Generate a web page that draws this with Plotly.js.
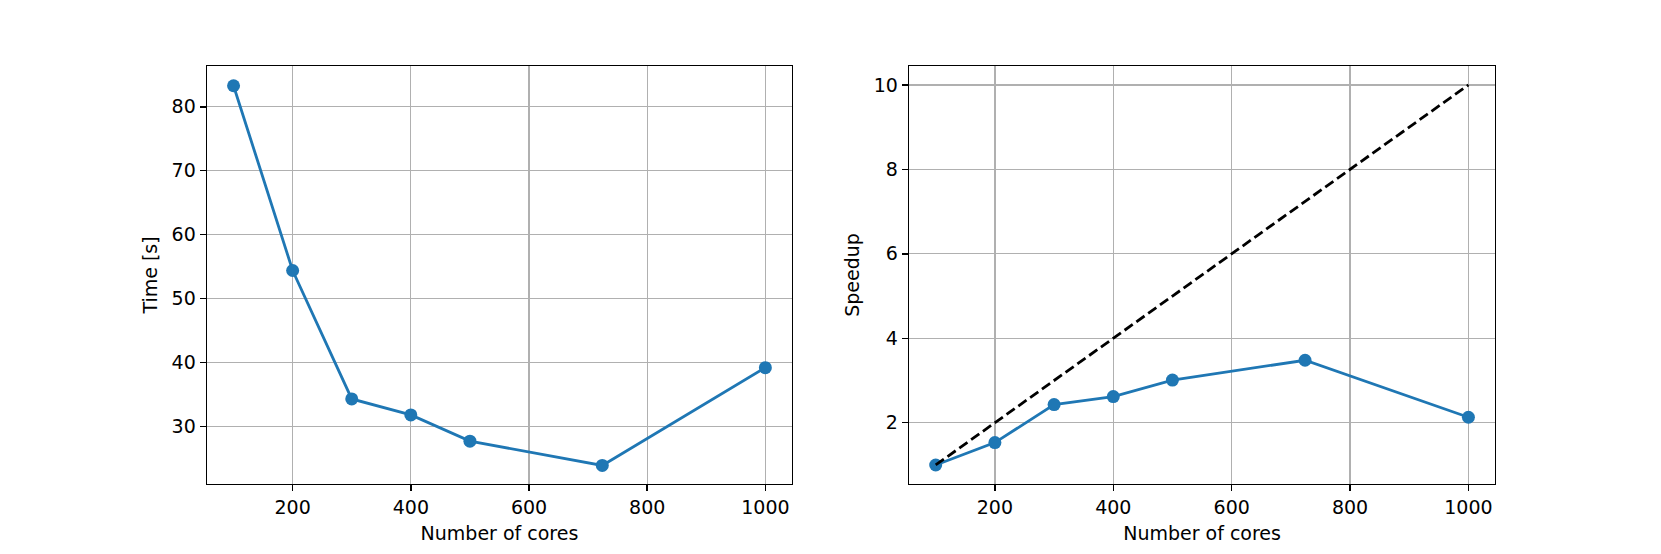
<!DOCTYPE html>
<html>
<head>
<meta charset="utf-8">
<script src="https://cdn.plot.ly/plotly-3.0.1.min.js"></script>
<style>
  html, body { margin: 0; padding: 0; background: #fff; }
  #plot { width: 1661px; height: 554px; }
</style>
</head>
<body>
<div id="plot"></div>
<script>
// Values
const cores = [100, 200, 300, 400, 500, 724, 1000];
const timeSec = [83.3, 54.4, 34.3, 31.8, 27.7, 23.9, 39.2];
const speedup = [1.0, 1.53, 2.43, 2.62, 3.01, 3.48, 2.13];
const idealCores = [100, 1000];
const idealSpeedup = [1, 10];

const blue = '#1f77b4';
const font = { family: 'DejaVu Sans', size: 19, color: '#000' };

// Shared axis styling, matplotlib look
function axisStyle(extra) {
    return Object.assign({
        showline: true,
        mirror: true,
        linecolor: '#000',
        linewidth: 1.4,
        ticks: 'outside',
        ticklen: 6,
        tickwidth: 1.4,
        tickcolor: '#000',
        showgrid: true,
        gridcolor: '#b0b0b0',
        gridwidth: 1.3,
        zeroline: false,
        automargin: false,
        tickfont: font
    }, extra);
}

const traces = [
    {
        x: cores, y: timeSec,
        xaxis: 'x', yaxis: 'y',
        mode: 'lines+markers',
        line: { color: blue, width: 2.8 },
        marker: { color: blue, size: 13 },
        type: 'scatter'
    },
    {
        x: cores, y: speedup,
        xaxis: 'x2', yaxis: 'y2',
        mode: 'lines+markers',
        line: { color: blue, width: 2.8 },
        marker: { color: blue, size: 13 },
        type: 'scatter'
    },
    {
        x: idealCores, y: idealSpeedup,
        xaxis: 'x2', yaxis: 'y2',
        mode: 'lines',
        line: { color: '#000', width: 2.8, dash: '10px,4.5px' },
        type: 'scatter'
    }
];

const layout = {
    width: 1661,
    height: 554,
    margin: { l: 0, r: 0, t: 0, b: 0 },
    paper_bgcolor: '#fff',
    plot_bgcolor: '#fff',
    showlegend: false,
    font: font,
    xaxis: axisStyle({
        domain: [0.1246, 0.4768],
        anchor: 'y',
        range: [55, 1045],
        tick0: 0, dtick: 200,
        title: { text: 'Number of cores', font: font, standoff: 9 }
    }),
    yaxis: axisStyle({
        domain: [0.1264, 0.881],
        anchor: 'x',
        range: [21.0, 86.4],
        tick0: 0, dtick: 10,
        title: { text: 'Time [s]', font: font, standoff: 9 }
    }),
    xaxis2: axisStyle({
        domain: [0.5473, 0.9001],
        anchor: 'y2',
        range: [55, 1045],
        tick0: 0, dtick: 200,
        title: { text: 'Number of cores', font: font, standoff: 9 }
    }),
    yaxis2: axisStyle({
        domain: [0.1264, 0.881],
        anchor: 'x2',
        range: [0.55, 10.45],
        tick0: 0, dtick: 2,
        title: { text: 'Speedup', font: font, standoff: 9 }
    })
};

Plotly.newPlot('plot', traces, layout, { staticPlot: true });
</script>
</body>
</html>
